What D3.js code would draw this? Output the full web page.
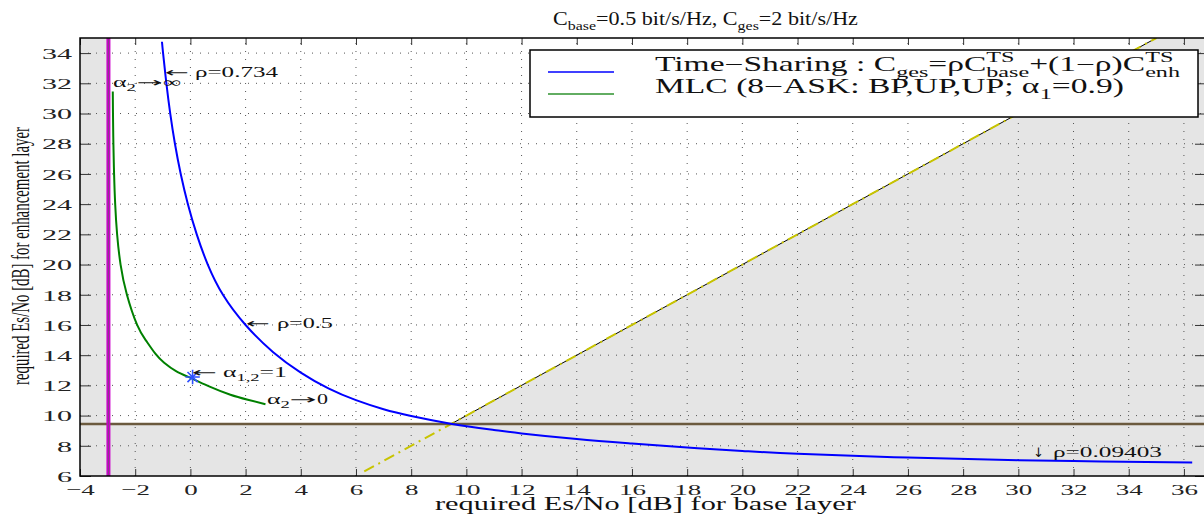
<!DOCTYPE html>
<html>
<head>
<meta charset="utf-8">
<script src="https://cdn.jsdelivr.net/npm/d3@7"></script>
<style>
  body { margin: 0; background: #fff; }
  svg { display: block; }
</style>
</head>
<body>
<svg id="chart" width="1204" height="515"></svg>
<script>
// ---- data ----
var xTickVals = [-4, -2, 0, 2, 4, 6, 8, 10, 12, 14, 16, 18, 20, 22, 24, 26, 28, 30, 32, 34, 36];
var yTickVals = [6, 8, 10, 12, 14, 16, 18, 20, 22, 24, 26, 28, 30, 32, 34];

// time-sharing curve (blue)
var blueX = [-1.03, -0.99, -0.87, -0.73, -0.56, -0.35, -0.09, 0.23, 0.63, 1.18, 2.0, 3.0, 4.0, 5.0, 6.0, 7.0, 8.0, 9.48, 11, 12, 14, 16, 18, 20, 22, 26, 30, 33, 36.3];
var blueY = [34.75, 34, 32, 30, 28, 26, 24, 22, 20, 18, 16, 14.2, 12.85, 11.8, 11.02, 10.42, 9.97, 9.45, 9.05, 8.82, 8.45, 8.15, 7.88, 7.66, 7.47, 7.22, 7.05, 6.96, 6.9];

// MLC curve (green)
var greenX = [-2.812, -2.805, -2.79, -2.765, -2.725, -2.655, -2.53, -2.3, -1.93, -1.62, -1.27, -0.95, -0.52, 0.06, 0.72, 1.45, 2.08, 2.72];
var greenY = [31.45, 30, 28, 26, 24, 22, 20, 18, 16, 15, 14.1, 13.5, 12.95, 12.45, 11.9, 11.38, 11.05, 10.75];

// marker alpha_1,2 = 1
var starPt = [0.08, 12.55];

// limits
var magentaX = -2.97;
var brownY = 9.45;
var diagDashX = [6.3, 35];     // yellow dash-dot on x = y
var diagSolidX = [9.45, 35];   // thin black part

// ---- setup ----
var svg = d3.select("#chart");
var x = d3.scaleLinear().domain([-4, 36.8]).range([80, 1206]);
var y = d3.scaleLinear().domain([6, 35]).range([476, 38]);
var serif = "'Liberation Serif', 'Times New Roman', serif";
var arrowFont = "'DejaVu Sans', sans-serif";

svg.append("rect").attr("width", 1204).attr("height", 515).attr("fill", "#fff");

var plot = svg.append("g");
plot.append("defs").append("clipPath").attr("id", "clip")
    .append("rect").attr("x", x(-4)).attr("y", y(35)).attr("width", x(36.8) - x(-4)).attr("height", y(6) - y(35));

// gray regions
var gray = "#e5e5e5";
plot.append("rect")
    .attr("x", x(-4)).attr("y", y(35))
    .attr("width", x(magentaX) - x(-4)).attr("height", y(6) - y(35))
    .attr("fill", gray);
plot.append("rect")
    .attr("x", x(-4)).attr("y", y(brownY))
    .attr("width", x(36.8) - x(-4)).attr("height", y(6) - y(brownY))
    .attr("fill", gray);
var tri = [[brownY, brownY], [36.8, brownY], [36.8, 35], [35, 35]];
plot.append("path")
    .attr("d", d3.line().x(function(d){ return x(d[0]); }).y(function(d){ return y(d[1]); })(tri) + "Z")
    .attr("fill", gray);

// dotted grid
var grid = plot.append("g").attr("stroke", "#555").attr("stroke-width", 1).attr("stroke-dasharray", "1,7");
grid.selectAll("line.v").data(xTickVals.slice(1)).enter().append("line")
    .attr("x1", function(d){ return x(d); }).attr("x2", function(d){ return x(d); })
    .attr("y1", y(6)).attr("y2", y(35));
grid.selectAll("line.h").data(yTickVals.slice(1)).enter().append("line")
    .attr("x1", x(-4)).attr("x2", x(36.8))
    .attr("y1", function(d){ return y(d); }).attr("y2", function(d){ return y(d); });

var clipped = plot.append("g").attr("clip-path", "url(#clip)");

// diagonal x = y
clipped.append("line")
    .attr("x1", x(diagSolidX[0])).attr("y1", y(diagSolidX[0]))
    .attr("x2", x(diagSolidX[1])).attr("y2", y(diagSolidX[1]))
    .attr("stroke", "#000").attr("stroke-width", 1);
clipped.append("line")
    .attr("x1", x(diagDashX[0])).attr("y1", y(diagDashX[0]))
    .attr("x2", x(diagDashX[1])).attr("y2", y(diagDashX[1]))
    .attr("stroke", "#c8c400").attr("stroke-width", 2)
    .attr("stroke-dasharray", "11,5,2,5");

// brown horizontal limit
clipped.append("line")
    .attr("x1", x(-4)).attr("x2", x(36.8))
    .attr("y1", y(brownY)).attr("y2", y(brownY))
    .attr("stroke", "#6b5a3e").attr("stroke-width", 2.5);

// magenta vertical limit
clipped.append("line")
    .attr("x1", x(magentaX)).attr("x2", x(magentaX))
    .attr("y1", y(6)).attr("y2", y(35))
    .attr("stroke", "#cc00cc").attr("stroke-width", 4);
clipped.append("line")
    .attr("x1", x(magentaX)).attr("x2", x(magentaX))
    .attr("y1", y(6)).attr("y2", y(35))
    .attr("stroke", "#8a3a8a").attr("stroke-width", 1.2);

// curves
var line = d3.line()
    .x(function(d){ return x(d[0]); })
    .y(function(d){ return y(d[1]); })
    .curve(d3.curveNatural);

clipped.append("path")
    .datum(d3.zip(blueX, blueY))
    .attr("d", line)
    .attr("fill", "none").attr("stroke", "#0000ff").attr("stroke-width", 2);

clipped.append("path")
    .datum(d3.zip(greenX, greenY))
    .attr("d", line)
    .attr("fill", "none").attr("stroke", "#008000").attr("stroke-width", 2);

// star marker
var starG = plot.append("g")
    .attr("transform", "translate(" + x(starPt[0]) + "," + y(starPt[1]) + ")")
    .attr("stroke", "#3050ff").attr("stroke-width", 1.6).attr("fill", "none");
[d3.symbolPlus || d3.symbolCross, d3.symbolTimes || d3.symbolCross].forEach(function(t){
    starG.append("path").attr("d", d3.symbol(t, 70)());
});

// axes
function styleTicks(g) {
    g.select(".domain").remove();
    g.selectAll(".tick line").attr("stroke", "#333").attr("stroke-width", 1);
    g.selectAll("text").attr("font-family", serif).attr("font-size", 15.5).attr("fill", "#222");
}

var gx = svg.append("g").attr("transform", "translate(0," + y(6) + ")")
    .call(d3.axisBottom(x).tickValues(xTickVals).tickSizeInner(-7).tickSizeOuter(0).tickFormat(d3.format("d")));
styleTicks(gx);
gx.selectAll("text").attr("y", 0).attr("dy", 0)
    .attr("transform", "translate(0,18.5) scale(1.74,1)");

var gy = svg.append("g").attr("transform", "translate(" + x(-4) + ",0)")
    .call(d3.axisLeft(y).tickValues(yTickVals).tickSizeInner(-11).tickSizeOuter(0).tickFormat(d3.format("d")));
styleTicks(gy);
gy.selectAll("text").attr("x", 0).attr("dy", "0.34em")
    .attr("transform", "translate(-8,0) scale(1.94,1)");

var gt = svg.append("g").attr("transform", "translate(0," + y(35) + ")")
    .call(d3.axisTop(x).tickValues(xTickVals).tickSizeInner(-7).tickSizeOuter(0).tickFormat(""));
styleTicks(gt);
var gr = svg.append("g").attr("transform", "translate(" + x(36.8) + ",0)")
    .call(d3.axisRight(y).tickValues(yTickVals).tickSizeInner(-11).tickSizeOuter(0).tickFormat(""));
styleTicks(gr);

svg.append("rect")
    .attr("x", x(-4)).attr("y", y(35))
    .attr("width", x(36.8) - x(-4)).attr("height", y(6) - y(35))
    .attr("fill", "none").attr("stroke", "#000").attr("stroke-width", 1.5);

// rich text: segments laid out then stretched to a target width
function richText(parent, x0, x1, base, segs, fs, font) {
    var g = parent.append("g");
    var inner = g.append("g");
    var cx = 0, pend = 0;
    segs.forEach(function(s) {
        var k = s.k || "n";
        var size = k === "n" ? fs : fs * 0.72;
        var dy = k === "b" ? fs * 0.3 : (k === "p" ? -fs * 0.45 : 0);
        var t = inner.append("text")
            .attr("x", cx).attr("y", dy)
            .attr("font-family", font || serif).attr("font-size", size)
            .attr("fill", "#111")
            .text(s.t);
        var w = t.node().getComputedTextLength();
        if (s.stack) { pend = w; }
        else { cx += Math.max(w, pend); pend = 0; }
    });
    var sc = (x1 - x0) / cx;
    g.attr("transform", "translate(" + x0 + "," + base + ") scale(" + sc + ",1)");
    return g;
}

// legend
var leg = svg.append("g");
leg.append("rect").attr("x", 530).attr("y", 50).attr("width", 668).attr("height", 67)
    .attr("fill", "#fff").attr("stroke", "#000").attr("stroke-width", 1.5);
leg.append("line").attr("x1", 548).attr("x2", 614).attr("y1", 72).attr("y2", 72)
    .attr("stroke", "#0000ff").attr("stroke-width", 1.5);
leg.append("line").attr("x1", 548).attr("x2", 614).attr("y1", 94).attr("y2", 94)
    .attr("stroke", "#2e922e").attr("stroke-width", 1.5);
richText(leg, 655, 1180, 71, [
    {t: "Time\u2212Sharing : C"}, {t: "ges", k: "b"}, {t: "=\u03c1C"},
    {t: "TS", k: "p", stack: true}, {t: "base", k: "b"},
    {t: "+(1\u2212\u03c1)C"}, {t: "TS", k: "p", stack: true}, {t: "enh", k: "b"}
], 20);
richText(leg, 655, 1124, 93, [
    {t: "MLC (8\u2212ASK: BP,UP,UP; \u03b1"}, {t: "1", k: "b"}, {t: "=0.9)"}
], 20);

// annotations (arrows drawn as separate glyphs)
var ann = svg.append("g").attr("fill", "#111");
richText(ann, 165, 189, 77, [{t: "\u2190"}], 13, arrowFont);
richText(ann, 195, 278, 77, [{t: "\u03c1=0.734"}], 14);

richText(ann, 113, 136, 87, [{t: "\u03b1"}, {t: "2", k: "b"}], 14);
richText(ann, 137, 163, 87, [{t: "\u2192"}], 13, arrowFont);
richText(ann, 163, 181, 87, [{t: "\u221e"}], 14);

richText(ann, 246, 270, 328, [{t: "\u2190"}], 13, arrowFont);
richText(ann, 277, 333, 328, [{t: "\u03c1=0.5"}], 14);

richText(ann, 192, 217, 377, [{t: "\u2190"}], 13, arrowFont);
richText(ann, 223, 287, 377, [{t: "\u03b1"}, {t: "1,2", k: "b"}, {t: "=1"}], 14);

richText(ann, 267, 290, 404, [{t: "\u03b1"}, {t: "2", k: "b"}], 14);
richText(ann, 290, 317, 404, [{t: "\u2192"}], 13, arrowFont);
richText(ann, 317, 328, 404, [{t: "0"}], 14);

richText(ann, 1033, 1044, 457, [{t: "\u2193"}], 13, arrowFont);
richText(ann, 1053, 1162, 457, [{t: "\u03c1=0.09403"}], 14);

// title
richText(svg, 553, 858, 25, [
    {t: "C"}, {t: "base", k: "b"}, {t: "=0.5 bit/s/Hz, C"}, {t: "ges", k: "b"}, {t: "=2 bit/s/Hz"}
], 18);

// x label
richText(svg, 435, 856, 510, [{t: "required Es/No [dB] for base layer"}], 19);

// y label (rotated, stretched across the glyphs)
var yl = svg.append("g");
var ylt = yl.append("text")
    .attr("font-family", serif).attr("font-size", 15)
    .attr("text-anchor", "middle").attr("fill", "#111")
    .text("required Es/No [dB] for enhancement layer");
var ylen = ylt.node().getComputedTextLength();
yl.attr("transform", "translate(29,256) scale(1.75," + (258 / ylen) + ") rotate(-90)");
</script>
</body>
</html>
